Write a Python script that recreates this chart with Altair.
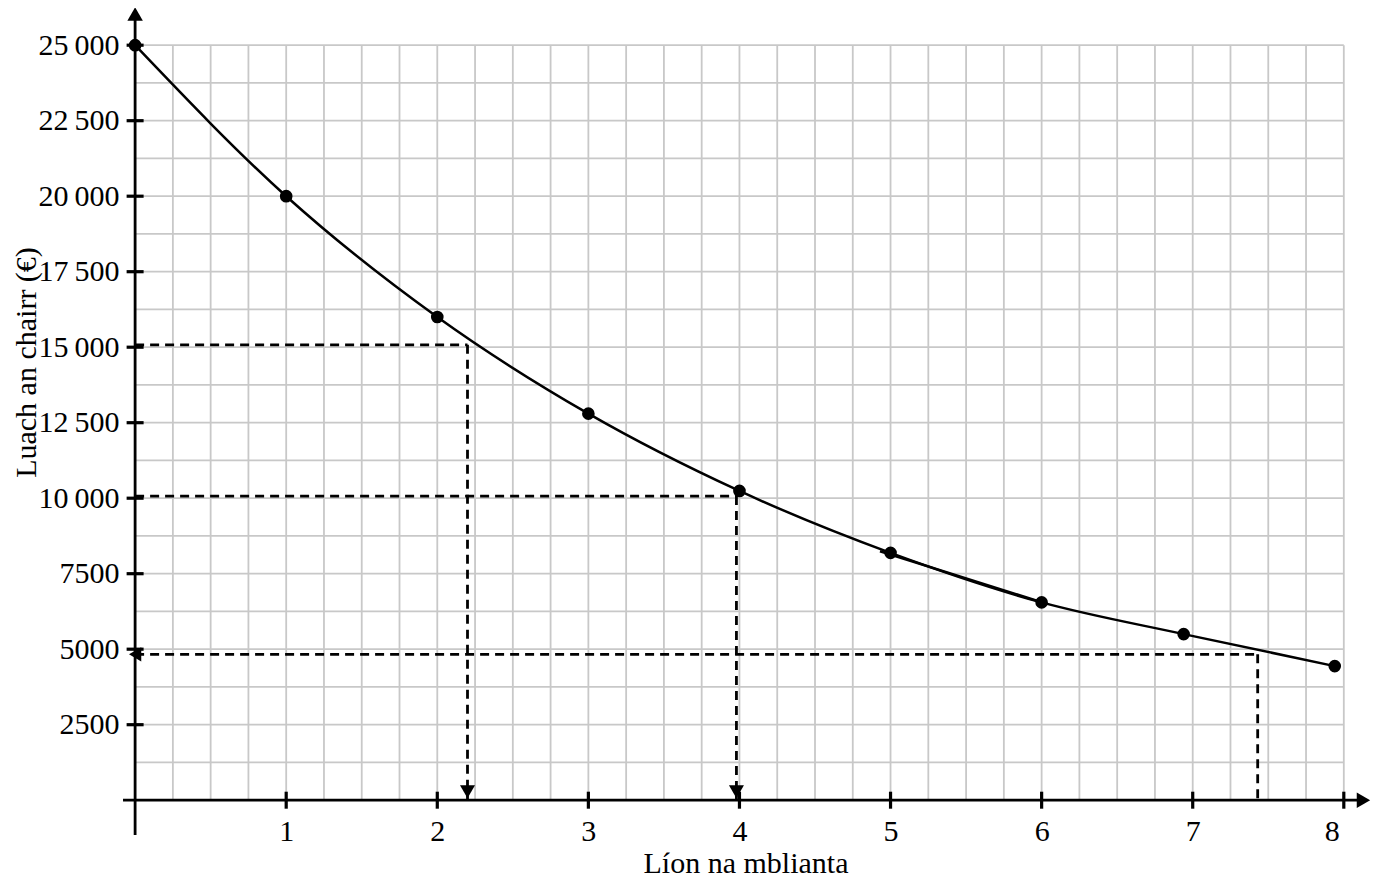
import altair as alt
import pandas as pd

# ---- data ----
years = [0, 1, 2, 3, 4, 5, 6, 6.94, 7.94]
values = [25000, 20000, 16000, 12800, 10240, 8190, 6550, 5500, 4440]

# short overlapping stroke between years 5 and 6
chord_x = [4.93, 6.0]
chord_y = [8245, 6556]

# dashed read-off guides
guide_x = [2.2, 3.98, 7.43]
guide_y = [15080, 10070, 4830]
guide_down_arrow = [True, True, False]

x_tick_values = [1, 2, 3, 4, 5, 6, 7, 8]
y_tick_values = [2500, 5000, 7500, 10000, 12500, 15000, 17500, 20000, 22500, 25000]
x_grid = [i * 0.25 for i in range(33)]
y_grid = [i * 1250 for i in range(21)]

X_DOMAIN = [-0.1, 8.18]
Y_DOMAIN = [-1500, 26000]
X_AXIS_SPAN = [-0.08, 8.13]
Y_AXIS_SPAN = [-1150, 26000]

FONT = "Liberation Serif"
GRID = "#c8c8c8"

XS = alt.Scale(domain=X_DOMAIN, nice=False, zero=False)
YS = alt.Scale(domain=Y_DOMAIN, nice=False, zero=False)

XA = alt.Axis(
    values=x_tick_values, domain=False, ticks=False, tickSize=0, grid=False,
    labelFont=FONT, labelFontSize=30, labelColor="black", labelPadding=16,
    labelFlush=False, labelOverlap=False,
    labelOffset={"condition": {"test": "datum.value == 8", "value": -12}, "value": 0},
    offset=-45.3,
    title="Líon na mblianta", titleFont=FONT, titleFontSize=30,
    titleFontWeight="normal", titleColor="black", titleBaseline="alphabetic", titleY=72,
)
YA = alt.Axis(
    values=y_tick_values, domain=False, ticks=False, tickSize=0, grid=False,
    labelFont=FONT, labelFontSize=30, labelColor="black", labelPadding=16,
    labelFlush=False, labelOverlap=False,
    labelExpr="datum.value >= 10000 ? replace(format(datum.value, ','), ',', '\u2009') : format(datum.value, 'd')",
    offset=-15.1,
    title="Luach an chairr (€)", titleFont=FONT, titleFontSize=30,
    titleFontWeight="normal", titleColor="black", titleBaseline="alphabetic",
    titleAngle=270, titleX=-100, titleY=347,
)


def ex(f):
    return alt.X(f, type="quantitative", scale=XS, axis=XA)


def ey(f):
    return alt.Y(f, type="quantitative", scale=YS, axis=YA)


# grid
vgrid = pd.DataFrame({"x": x_grid, "y": 0, "y2": 25000})
hgrid = pd.DataFrame({"y": y_grid, "x": 0, "x2": 8})
grid_v = alt.Chart(vgrid).mark_rule(color=GRID, strokeWidth=1.8).encode(
    x=ex("x"), y=ey("y"), y2="y2")
grid_h = alt.Chart(hgrid).mark_rule(color=GRID, strokeWidth=1.8).encode(
    x=ex("x"), x2="x2", y=ey("y"))

# dashed guides
rows = []
for i, (gx, gy) in enumerate(zip(guide_x, guide_y)):
    rows.append({"seg": f"h{i}", "x": 0, "y": gy, "o": 0})
    rows.append({"seg": f"h{i}", "x": gx, "y": gy, "o": 1})
    rows.append({"seg": f"v{i}", "x": gx, "y": gy, "o": 0})
    rows.append({"seg": f"v{i}", "x": gx, "y": 0, "o": 1})
guides = pd.DataFrame(rows)
guide_lines = alt.Chart(guides).mark_line(
    color="black", strokeWidth=2.8, strokeDash=[9, 6]).encode(
    x=ex("x"), y=ey("y"), detail="seg:N", order="o:Q")

# curve & points
curve_df = pd.DataFrame({"x": years, "y": values})
curve = alt.Chart(curve_df).mark_line(
    color="black", strokeWidth=2.5, interpolate="monotone").encode(x=ex("x"), y=ey("y"))
chord = alt.Chart(pd.DataFrame({"x": chord_x, "y": chord_y})).mark_line(
    color="black", strokeWidth=2.5).encode(x=ex("x"), y=ey("y"))
points = alt.Chart(curve_df).mark_point(
    shape="circle", filled=True, size=160, color="black", opacity=1).encode(
    x=ex("x"), y=ey("y"))

# axis lines
xaxis_line = alt.Chart(pd.DataFrame({"x": [X_AXIS_SPAN[0]], "x2": [X_AXIS_SPAN[1]], "y": [0]})).mark_rule(
    color="black", strokeWidth=2.8).encode(x=ex("x"), x2="x2", y=ey("y"))
yaxis_line = alt.Chart(pd.DataFrame({"y": [Y_AXIS_SPAN[0]], "y2": [Y_AXIS_SPAN[1]], "x": [0]})).mark_rule(
    color="black", strokeWidth=2.8).encode(x=ex("x"), y=ey("y"), y2="y2")

# tick marks crossing the axes
xt = alt.Chart(pd.DataFrame({"x": x_tick_values, "y": 0})).mark_tick(
    orient="vertical", size=17, thickness=3.2, color="black", opacity=1).encode(
    x=ex("x"), y=ey("y"))
yt = alt.Chart(pd.DataFrame({"y": y_tick_values, "x": 0})).mark_tick(
    orient="horizontal", size=17, thickness=3.2, color="black", opacity=1).encode(
    x=ex("x"), y=ey("y"))

# arrowheads
down_df = pd.DataFrame({"x": [gx for gx, d in zip(guide_x, guide_down_arrow) if d], "y": 0})
down_arrows = alt.Chart(down_df).mark_point(
    shape="triangle-down", filled=True, size=225, color="black", opacity=1, yOffset=-8.5).encode(
    x=ex("x"), y=ey("y"))
left_df = pd.DataFrame({"x": [0], "y": [guide_y[2]]})
left_arrow = alt.Chart(left_df).mark_point(
    shape="triangle-left", filled=True, size=200, color="black", opacity=1).encode(
    x=ex("x"), y=ey("y"))
up_df = pd.DataFrame({"x": [0], "y": [Y_AXIS_SPAN[1]]})
up_arrow = alt.Chart(up_df).mark_point(
    shape="triangle-up", filled=True, size=240, color="black", opacity=1, yOffset=-1).encode(
    x=ex("x"), y=ey("y"))
right_df = pd.DataFrame({"x": [X_AXIS_SPAN[1]], "y": [0]})
right_arrow = alt.Chart(right_df).mark_point(
    shape="triangle-right", filled=True, size=240, color="black", opacity=1).encode(
    x=ex("x"), y=ey("y"))

chart = alt.layer(
    grid_v, grid_h, guide_lines, curve, chord, points,
    xaxis_line, yaxis_line, xt, yt, down_arrows, left_arrow, up_arrow, right_arrow,
).properties(
    width=1251, height=830.5,
    autosize=alt.AutoSizeParams(type="none"),
    padding={"left": 112, "top": 7, "right": 0, "bottom": 32},
    background="white",
).configure_view(stroke=None)

chart.save("out.html", embed_options={"renderer": "svg", "actions": False})
